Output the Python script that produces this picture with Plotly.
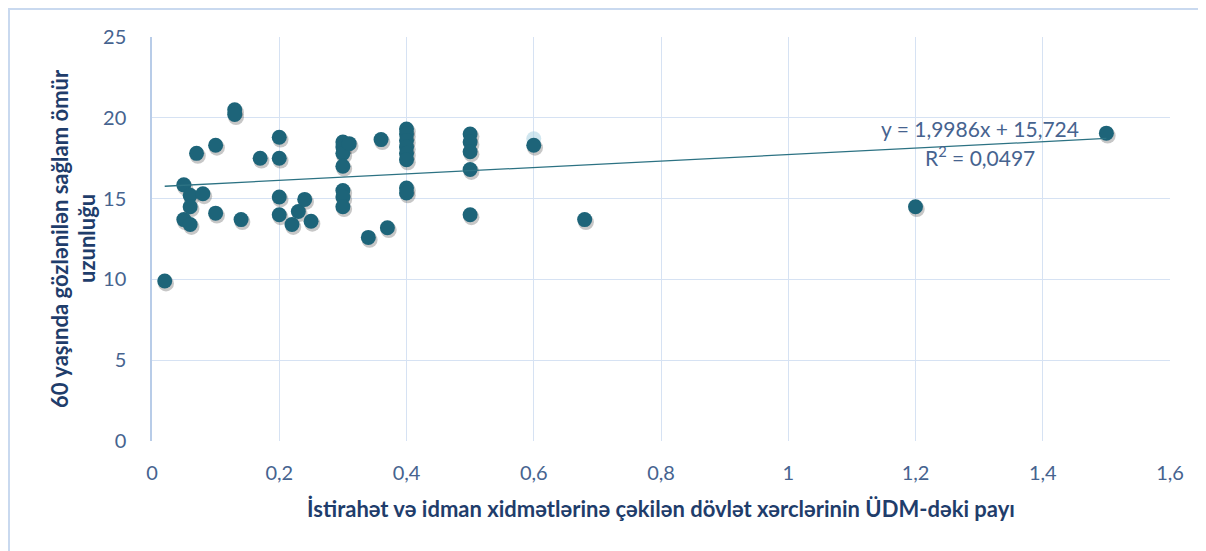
import plotly.graph_objects as go

# share of public spending on recreation & sport in GDP (x) vs healthy life expectancy at 60 (y)
x_share = [0.02, 0.05, 0.05, 0.06, 0.06, 0.06, 0.07, 0.08, 0.1, 0.1,
           0.13, 0.13, 0.14, 0.17, 0.2, 0.2, 0.2, 0.2, 0.22, 0.23,
           0.24, 0.25, 0.3, 0.3, 0.3, 0.3, 0.3, 0.3, 0.3, 0.31,
           0.34, 0.36, 0.37, 0.4, 0.4, 0.4, 0.4, 0.4, 0.4, 0.4,
           0.4, 0.5, 0.5, 0.5, 0.5, 0.5, 0.6, 0.68, 1.2, 1.5]
y_hale = [9.9, 15.85, 13.7, 15.2, 14.5, 13.4, 17.8, 15.3, 18.3, 14.1,
          20.5, 20.2, 13.7, 17.5, 18.8, 17.5, 15.1, 14.0, 13.4, 14.2,
          14.95, 13.6, 18.5, 18.2, 17.8, 17.0, 15.5, 15.1, 14.5, 18.4,
          12.6, 18.65, 13.2, 19.3, 19.0, 18.6, 18.2, 17.8, 17.4, 15.65,
          15.35, 19.0, 18.5, 17.9, 16.8, 14.0, 18.3, 13.7, 14.5, 19.05]

# faint highlighted point behind the 0,6 marker
ghost_x = [0.6]
ghost_y = [18.7]

slope = 1.9986
intercept = 15.724
r2 = 0.0497

x_ticks = [0, 0.2, 0.4, 0.6, 0.8, 1, 1.2, 1.4, 1.6]
y_ticks = [0, 5, 10, 15, 20, 25]

x_title = "İstirahət və idman xidmətlərinə çəkilən dövlət xərclərinin ÜDM-dəki payı"
y_title_lines = ["60 yaşında gözlənilən sağlam ömür", "uzunluğu"]

FONT = "Lato"
TICK_COLOR = "#46638f"
TITLE_COLOR = "#1f3d6b"
GRID = "#d6e2f3"

# the page body adds an 8px offset, so the figure is 8px smaller and margins shifted
W, H = 1198, 543
ML, MR, MT, MB = 144, 36, 29, 110
plot_w = W - ML - MR
plot_h = H - MT - MB

fig = go.Figure()

# soft shadow under markers
fig.add_trace(go.Scatter(
    x=[v + 0.002 for v in x_share], y=[v - 0.15 for v in y_hale],
    mode="markers", hoverinfo="skip",
    marker=dict(size=16, color="rgba(70,70,70,0.3)", line=dict(width=0))))

fig.add_trace(go.Scatter(
    x=ghost_x, y=ghost_y, mode="markers", hoverinfo="skip",
    marker=dict(size=15, color="rgba(170,210,225,0.55)", line=dict(width=0))))

fig.add_trace(go.Scatter(
    x=x_share, y=y_hale, mode="markers",
    marker=dict(size=15, color="#1d6479", line=dict(width=0))))

# linear trendline from the stated equation, over the data range
x0, x1 = min(x_share), max(x_share)
fig.add_trace(go.Scatter(
    x=[x0, x1], y=[slope * x0 + intercept, slope * x1 + intercept],
    mode="lines", hoverinfo="skip",
    line=dict(color="#2c7283", width=1.3)))

eq_text = "y = {}x + {}".format(str(slope).replace(".", ","), str(intercept).replace(".", ","))
r2_text = "R<sup>2</sup> = {}".format(str(r2).replace(".", ","))
fig.add_annotation(x=1.302, y=19.35, text=eq_text, showarrow=False,
                   font=dict(family=FONT, size=21, color=TICK_COLOR))
fig.add_annotation(x=1.302, y=17.65, text=r2_text, showarrow=False,
                   font=dict(family=FONT, size=21, color=TICK_COLOR))

# y-axis title as two rotated lines (tighter line spacing than plotly's default)
for px_x, line in zip([51, 78], y_title_lines):
    fig.add_annotation(xref="paper", yref="paper", x=(px_x - ML) / plot_w, y=0.5,
                       text="<b>" + line + "</b>", textangle=-90, showarrow=False,
                       xanchor="center", yanchor="middle",
                       font=dict(family=FONT, size=22, color=TITLE_COLOR))

# chart-area border (top and left edges visible)
fig.add_shape(type="rect", xref="paper", yref="paper",
              x0=-(ML - 1) / plot_w, x1=1 + (MR + 20) / plot_w,
              y0=-(MB + 20) / plot_h, y1=1 + (MT - 1) / plot_h,
              line=dict(color="#c9d9ef", width=2), layer="below")

fig.update_layout(
    width=W, height=H,
    margin=dict(l=ML, r=MR, t=MT, b=MB, autoexpand=False),
    paper_bgcolor="white", plot_bgcolor="white",
    showlegend=False,
    separators=", ",
    font=dict(family=FONT, color=TICK_COLOR),
    xaxis=dict(
        range=[0, 1.6], tickvals=x_ticks, showgrid=True, gridcolor=GRID, gridwidth=1,
        zeroline=False, showline=False, ticks="",
        ticklabelstandoff=18,
        tickfont=dict(size=20, color=TICK_COLOR),
        title=dict(text="<b>" + x_title + "</b>", standoff=18,
                   font=dict(family=FONT, size=22, color=TITLE_COLOR))),
    yaxis=dict(
        range=[0, 25], tickvals=y_ticks, showgrid=True, gridcolor=GRID, gridwidth=1,
        zeroline=False, showline=True, linecolor="#b8cce8", linewidth=1.5, ticks="",
        ticklabelstandoff=20,
        tickfont=dict(size=20, color=TICK_COLOR)),
)

fig.write_html("out.html")
